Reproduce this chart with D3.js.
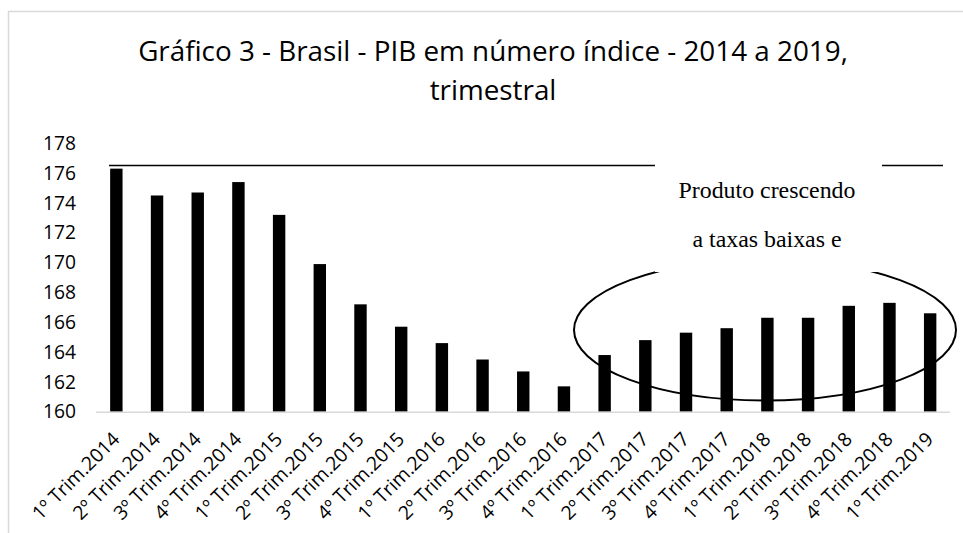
<!DOCTYPE html>
<html><head><meta charset="utf-8">
<script src="https://cdn.jsdelivr.net/npm/d3@7"></script>
<style>
html,body{margin:0;padding:0;background:#fff;}
svg{display:block;}
</style></head>
<body>
<svg id="chart" width="963" height="533"></svg>
<script>
const categories = [
  "1º Trim.2014","2º Trim.2014","3º Trim.2014","4º Trim.2014",
  "1º Trim.2015","2º Trim.2015","3º Trim.2015","4º Trim.2015",
  "1º Trim.2016","2º Trim.2016","3º Trim.2016","4º Trim.2016",
  "1º Trim.2017","2º Trim.2017","3º Trim.2017","4º Trim.2017",
  "1º Trim.2018","2º Trim.2018","3º Trim.2018","4º Trim.2018",
  "1º Trim.2019"
];
const pibIndex = [
  176.3, 174.5, 174.7, 175.4,
  173.2, 169.9, 167.2, 165.7,
  164.6, 163.5, 162.7, 161.7,
  163.8, 164.8, 165.3, 165.6,
  166.3, 166.3, 167.1, 167.3,
  166.6
];
const yTicks = [160,162,164,166,168,170,172,174,176,178];
const titleLines = ["Gráfico 3 - Brasil - PIB em número índice - 2014 a 2019,", "trimestral"];
const noteLines = ["Produto crescendo", "a taxas baixas e"];

const svg = d3.select("#chart");
const sans = "'Open Sans', 'Noto Sans', sans-serif";
const serif = "'Liberation Serif', 'DejaVu Serif', serif";

// frame
svg.append("rect").attr("x",8.5).attr("y",11.5).attr("width",970).attr("height",560)
  .attr("fill","none").attr("stroke","#d9d9d9").attr("stroke-width",1.5);

// helper: fit font size to target width
function fitText(sel, targetW, base){
  sel.attr("font-size", base);
  const w = sel.node().getComputedTextLength();
  sel.attr("font-size", base*targetW/w);
  return base*targetW/w;
}

// title
const t1 = svg.append("text").attr("x",493).attr("y",61).attr("text-anchor","middle")
  .attr("font-family",sans).attr("fill","#000").text(titleLines[0]);
const tfs = fitText(t1, 710, 28);
svg.append("text").attr("x",493).attr("y",100).attr("text-anchor","middle")
  .attr("font-family",sans).attr("font-size",tfs).attr("fill","#000").text(titleLines[1]);

// scales
const x = d3.scaleBand().domain(categories).range([96,950.5]).paddingInner(0.695).paddingOuter(0.3475);
const y = d3.scaleLinear().domain([160,178]).range([411.7,143.3]);

// y axis labels
const probe = svg.append("text").attr("font-family",sans).text("178");
const yfs = fitText(probe, 33, 20);
probe.remove();
const yAxis = d3.axisLeft(y).tickValues(yTicks).tickSize(0).tickPadding(0).tickFormat(d3.format("d"));
const yg = svg.append("g").attr("transform","translate(76,0)").call(yAxis);
yg.select(".domain").remove();
yg.selectAll("text").attr("font-family",sans).attr("font-size",yfs).attr("fill","#000");

// bars
svg.append("g").selectAll("rect").data(categories).join("rect")
  .attr("x",d=>x(d)).attr("width",x.bandwidth())
  .attr("y",(d,i)=>y(pibIndex[i])).attr("height",(d,i)=>y(160)-y(pibIndex[i]))
  .attr("fill","#000");

// baseline
svg.append("line").attr("x1",96).attr("x2",950).attr("y1",y(160)+0.5).attr("y2",y(160)+0.5)
  .attr("stroke","#d9d9d9").attr("stroke-width",1.5);

// x labels
const probe2 = svg.append("text").attr("font-family",sans).text(categories[0]);
const xfs = fitText(probe2, 114, 19);
probe2.remove();
svg.append("g").selectAll("text").data(categories).join("text")
  .attr("transform",d=>`translate(${x(d)+x.bandwidth()/2+4.5},440.5) rotate(-45)`)
  .attr("text-anchor","end").attr("font-family",sans).attr("font-size",xfs).attr("fill","#000")
  .text(d=>d);

// annotation: horizontal line
svg.append("line").attr("x1",109).attr("x2",943).attr("y1",165.5).attr("y2",165.5)
  .attr("stroke","#000").attr("stroke-width",1.3);
// ellipse
svg.append("ellipse").attr("cx",765).attr("cy",330).attr("rx",191).attr("ry",70.5)
  .attr("fill","none").attr("stroke","#000").attr("stroke-width",2);
// text box
svg.append("rect").attr("x",655).attr("y",150).attr("width",227).attr("height",122).attr("fill","#fff");
const n1 = svg.append("text").attr("x",767).attr("y",198).attr("text-anchor","middle")
  .attr("font-family",serif).attr("fill","#000").text(noteLines[0]);
const nfs = fitText(n1, 177, 22);
svg.append("text").attr("x",767).attr("y",247).attr("text-anchor","middle")
  .attr("font-family",serif).attr("font-size",nfs).attr("fill","#000").text(noteLines[1]);
</script>
</body></html>
